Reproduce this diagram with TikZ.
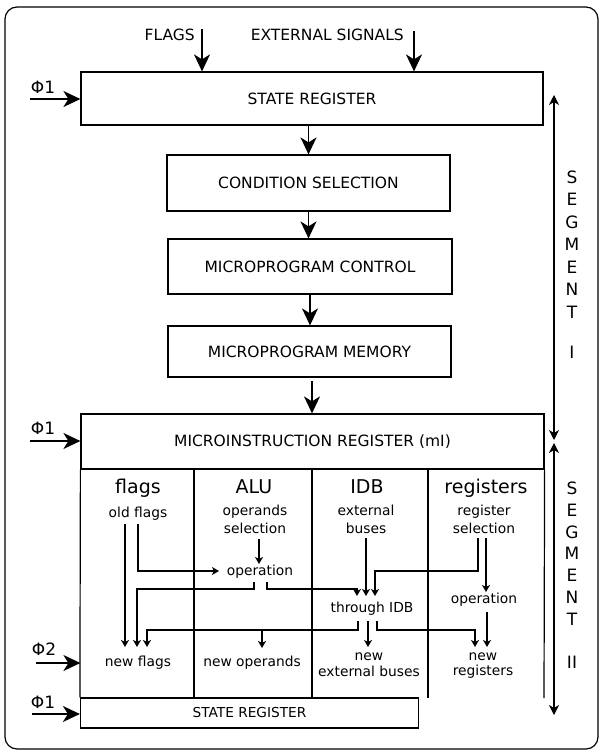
\documentclass[tikz,border=0pt]{standalone}
\usepackage{fontspec}
\setmainfont{DejaVu Sans}
\usetikzlibrary{arrows.meta,calc}
\begin{document}
\begin{tikzpicture}[x=1pt,y=-1pt,
  box/.style={draw,line width=1.2pt,inner sep=0pt,font=\fontsize{15.5}{18}\selectfont},
  bigarrow/.style={line width=1.6pt,-{Stealth[length=17pt,width=16pt,inset=5pt]}},
  smallarrow/.style={line width=1.1pt,-{Stealth[length=7pt,width=8pt,inset=2pt]}},
  colline/.style={line width=1.2pt},
  segarrow/.style={line width=1.3pt,{Stealth[length=10pt,width=10pt,inset=3pt]}-{Stealth[length=10pt,width=10pt,inset=3pt]}},
  headtxt/.style={font=\fontsize{19}{22}\selectfont,anchor=base,inner sep=0pt},
  subtxt/.style={font=\fontsize{13.8}{17}\selectfont,anchor=base,inner sep=0pt},
  toptxt/.style={font=\fontsize{15.5}{18}\selectfont,anchor=base,inner sep=0pt},
  phitxt/.style={font=\fontsize{17}{20}\selectfont,anchor=base,inner sep=0pt},
  segtxt/.style={font=\fontsize{17}{20}\selectfont,anchor=center,inner sep=0pt}
]
\useasboundingbox (0,0) rectangle (602,753);
\fill[white] (0,0) rectangle (602,753);
\draw[line width=1.2pt,rounded corners=12pt] (5,7) rectangle (598,749);

% main boxes
\node[box,minimum width=462pt,minimum height=53pt] (sr) at (312,98.5) {STATE REGISTER};
\node[box,minimum width=283pt,minimum height=56pt] (cs) at (308.5,183) {CONDITION SELECTION};
\node[box,minimum width=284pt,minimum height=55pt] (mc) at (310,266.5) {MICROPROGRAM CONTROL};
\node[box,minimum width=283pt,minimum height=51pt] (mm) at (309.5,351.5) {MICROPROGRAM MEMORY};
\node[box,minimum width=463pt,minimum height=55pt] (mi) at (312.5,441.5) {MICROINSTRUCTION REGISTER (mI)};
\node[box,minimum width=338pt,minimum height=30pt,font=\fontsize{13.7}{16}\selectfont] (sr2) at (249.5,713) {STATE REGISTER};

% column lines
\draw[colline] (mi.south west) -- (sr2.north west);
\draw[colline] (194,469) -- (194,698);
\draw[colline] (312,469) -- (312,698);
\draw[colline] (428,469) -- (428,698);
\draw[colline] (mi.south east) -- (544,698);

% top inputs
\node[toptxt,anchor=base east] (flagsl) at (195,40) {FLAGS};
\node[toptxt,anchor=base east] (extl) at (404,40) {EXTERNAL SIGNALS};
\coordinate (flagsin) at (202,29);
\coordinate (extin) at (414,31);
\draw[bigarrow] (flagsin) -- (flagsin |- sr.north);
\draw[bigarrow] (extin) -- (extin |- sr.north);

% phases
\node[phitxt] (p1a) at (43,93) {Φ1};
\coordinate (p1as) at (30,99);
\draw[bigarrow] (p1as) -- (p1as -| sr.west);
\node[phitxt] (p1b) at (43,434) {Φ1};
\coordinate (p1bs) at (30,441);
\draw[bigarrow] (p1bs) -- (p1bs -| mi.west);
\node[phitxt] (p2) at (44,655) {Φ2};
\coordinate (p2s) at (36,663);
\draw[bigarrow] (p2s) -- (p2s -| mi.west);
\node[phitxt] (p1c) at (43,708) {Φ1};
\coordinate (p1cs) at (32,714);
\draw[bigarrow] (p1cs) -- (p1cs -| sr2.west);

% chain arrows
\draw[bigarrow] (sr.south -| cs.north) -- (cs.north);
\draw[bigarrow] (cs.south) -- (cs.south |- mc.north);
\draw[bigarrow] (mc.south) -- (mc.south |- mm.north);
\coordinate (mmout) at (312,381);
\draw[bigarrow] (mmout) -- (mmout |- mi.north);

% segment markers
\coordinate (s1t) at (554,95);
\coordinate (s1b) at (554,440);
\coordinate (s2t) at (554,443);
\coordinate (s2b) at (554,715);
\draw[segarrow] (s1t) -- (s1b);
\draw[segarrow] (s2t) -- (s2b);
\foreach \l/\yy [count=\i] in {S/177,E/199.5,G/222,M/244.5,E/267,N/289.5,T/312,I/352}
  \node[segtxt] (segA\i) at (572,\yy) {\l};
\foreach \l/\yy [count=\i] in {S/488,E/510,G/532,M/553.5,E/575.5,N/597.5,T/619,II/662}
  \node[segtxt] (segB\i) at (572,\yy) {\l};

% column headings
\node[headtxt] (hflags) at (138,493.5) {flags};
\node[headtxt] (halu) at (254,493.5) {ALU};
\node[headtxt] (hidb) at (367,493.5) {IDB};
\node[headtxt] (hreg) at (486,493.5) {registers};

% sub texts
\node[subtxt] (oldf) at (138,517) {old flags};
\node[subtxt] (opsel1) at (255,515) {operands};
\node[subtxt] (opsel2) at (255,533) {selection};
\node[subtxt] (extb1) at (366,515) {external};
\node[subtxt] (extb2) at (366,533) {buses};
\node[subtxt] (regsel1) at (484,515) {register};
\node[subtxt] (regsel2) at (484,533) {selection};
\node[subtxt] (aluop) at (260,575) {operation};
\node[subtxt] (thr) at (372,612) {through IDB};
\node[subtxt] (regop) at (484,603) {operation};
\node[subtxt] (newf) at (138,666) {new flags};
\node[subtxt] (newop) at (252,666) {new operands};
\node[subtxt] (neweb1) at (369,660) {new};
\node[subtxt] (neweb2) at (369,676) {external buses};
\node[subtxt] (newr1) at (483,660) {new};
\node[subtxt] (newr2) at (483,675) {registers};

% inner connectors
\draw[smallarrow] (125,524) -- (125,647);
\draw[smallarrow] (138,524) -- (138,571) -- (219,571);
\draw[smallarrow] (259,539) -- (259,564);
\draw[smallarrow] (254,582) -- (254,589) -- (137,589) -- (137,647);
\draw[smallarrow] (267,582) -- (267,589) -- (357,589) -- (357,596);
\draw[smallarrow] (366,538) -- (366,596);
\draw[smallarrow] (478,538) -- (478,571) -- (375,571) -- (375,596);
\draw[smallarrow] (486,538) -- (486,592);
\draw[smallarrow] (358,621) -- (358,630) -- (147,630) -- (147,647);
\draw[smallarrow] (262,630) -- (262,648);
\draw[smallarrow] (368,621) -- (368,647);
\draw[smallarrow] (377,621) -- (377,630) -- (475,630) -- (475,647);
\draw[smallarrow] (487,612) -- (487,647);
\end{tikzpicture}
\end{document}
